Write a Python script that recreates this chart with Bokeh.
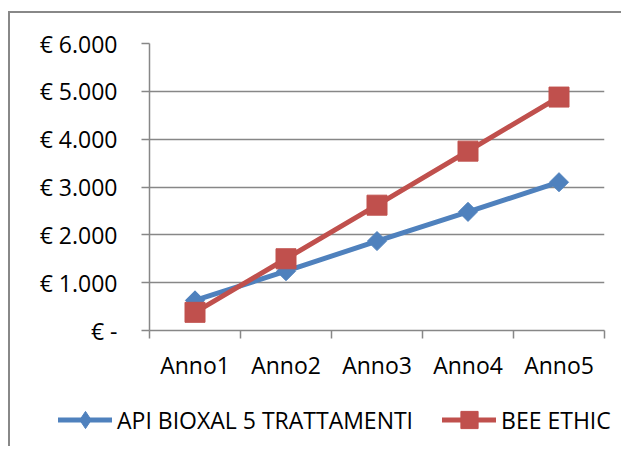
from bokeh.plotting import figure
from bokeh.layouts import column
from bokeh.models import Range1d, FixedTicker, Legend, LegendItem, ColumnDataSource
from bokeh.embed import file_html
from bokeh.resources import INLINE

# ---- data ----
categories = ["Anno1", "Anno2", "Anno3", "Anno4", "Anno5"]
api_bioxal = [630, 1240, 1870, 2480, 3100]
bee_ethic = [380, 1500, 2620, 3750, 4880]
y_ticks = [0, 1000, 2000, 3000, 4000, 5000, 6000]
y_tick_labels = ["€ -", "€ 1.000", "€ 2.000", "€ 3.000", "€ 4.000", "€ 5.000", "€ 6.000"]
series_names = ["API BIOXAL 5 TRATTAMENTI", "BEE ETHIC"]

# ---- style ----
FONT = "Open Sans"
FSIZE = "23px"
BLUE = "#4F81BD"
RED = "#C0504D"
GRID = "#878787"
BORDER = "2px solid #888888"

x_pos = [i + 0.5 for i in range(len(categories))]
boundaries = list(range(len(categories) + 1))

p = figure(width=613, height=372,
           x_range=Range1d(0, len(categories)), y_range=Range1d(0, 6000),
           output_backend="svg", toolbar_location=None,
           min_border_left=139, min_border_right=19,
           min_border_top=30, min_border_bottom=55)
p.frame_align = False
p.styles = {"border-left": BORDER, "border-top": BORDER,
            "margin-top": "11px", "margin-left": "8px"}
p.outline_line_color = None
p.background_fill_color = "white"
p.border_fill_color = "white"

# y axis
p.yaxis.ticker = FixedTicker(ticks=y_ticks)
p.yaxis.major_label_overrides = dict(zip(y_ticks, y_tick_labels))
p.yaxis.axis_line_color = GRID
p.yaxis.axis_line_width = 1.5
p.yaxis.major_tick_line_color = GRID
p.yaxis.major_tick_line_width = 1.5
p.yaxis.major_tick_out = 8
p.yaxis.major_tick_in = 0
p.yaxis.minor_tick_line_color = None
p.yaxis.major_label_standoff = 24
p.yaxis.major_label_text_font = FONT
p.yaxis.major_label_text_font_size = FSIZE
p.yaxis.major_label_text_color = "black"

# x axis
p.xaxis.ticker = FixedTicker(ticks=x_pos, minor_ticks=boundaries)
p.xaxis.major_label_overrides = dict(zip(x_pos, categories))
p.xaxis.axis_line_color = GRID
p.xaxis.axis_line_width = 1.5
p.xaxis.major_tick_line_color = None
p.xaxis.major_tick_out = 0
p.xaxis.major_tick_in = 0
p.xaxis.minor_tick_line_color = GRID
p.xaxis.minor_tick_line_width = 1.5
p.xaxis.minor_tick_out = 8
p.xaxis.minor_tick_in = 0
p.xaxis.major_label_standoff = 10
p.xaxis.major_label_text_font = FONT
p.xaxis.major_label_text_font_size = FSIZE
p.xaxis.major_label_text_color = "black"

# grid
p.xgrid.grid_line_color = None
p.ygrid.ticker = FixedTicker(ticks=y_ticks)
p.ygrid.grid_line_color = GRID
p.ygrid.grid_line_width = 1.5

# series
l1 = p.line(x_pos, api_bioxal, line_width=5, color=BLUE, line_join="round")
s1 = p.scatter(x_pos, api_bioxal, marker="square", angle=0.785398, size=13.5, color=BLUE)
l2 = p.line(x_pos, bee_ethic, line_width=5, color=RED, line_join="round")
s2 = p.scatter(x_pos, bee_ethic, marker="square", size=20, color=RED)

# ---- legend strip (second figure; legend-only renderers hold no visible point) ----
q = figure(width=613, height=63, x_axis_type=None, y_axis_type=None,
           output_backend="svg", toolbar_location=None,
           min_border=0, min_border_left=0, min_border_right=0,
           min_border_top=0, min_border_bottom=0)
q.frame_align = False
q.styles = {"border-left": BORDER, "margin-left": "8px"}
q.outline_line_color = None
q.grid.visible = False
q.background_fill_color = "white"
q.border_fill_color = "white"

nan_src = ColumnDataSource(data=dict(x=[float("nan")], y=[float("nan")]))
ql1 = q.line("x", "y", source=nan_src, line_width=5, color=BLUE, line_cap="round")
qd1 = q.scatter("x", "y", source=nan_src, marker="diamond", size=18, color=BLUE)
ql2 = q.line("x", "y", source=nan_src, line_width=5, color=RED, line_cap="round")
qs2 = q.scatter("x", "y", source=nan_src, marker="square", size=20, color=RED)

legend = Legend(items=[LegendItem(label=series_names[0], renderers=[ql1, qd1]),
                       LegendItem(label=series_names[1], renderers=[ql2, qs2])],
                orientation="horizontal", location=(48, 5),
                label_text_font=FONT, label_text_font_size=FSIZE,
                label_text_color="black",
                glyph_width=54, glyph_height=43, label_standoff=5, spacing=29,
                padding=0, margin=0, border_line_color=None,
                background_fill_alpha=0)
q.add_layout(legend)

layout = column(p, q, spacing=0)
open("out.html", "w").write(file_html(layout, INLINE))
